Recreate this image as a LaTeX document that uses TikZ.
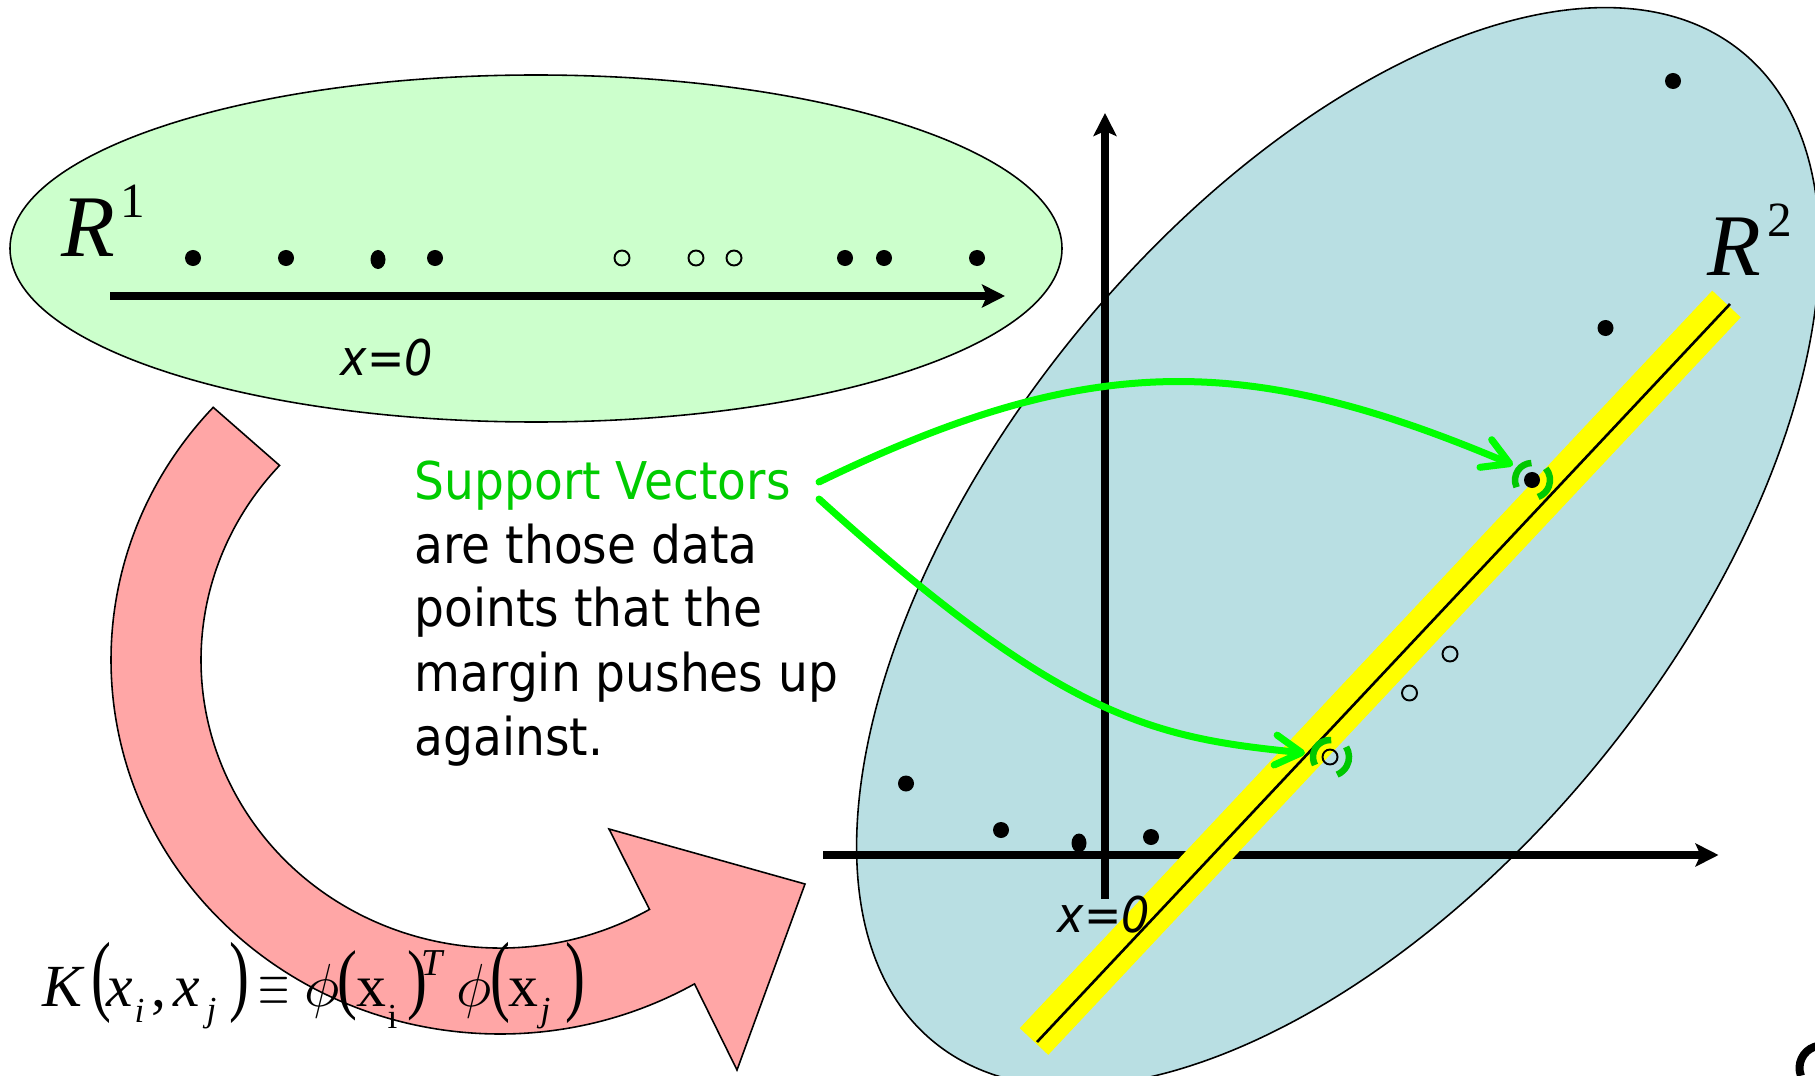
\documentclass[tikz,border=0pt]{standalone}
\usepackage{fontspec}
\usetikzlibrary{arrows.meta,shapes.geometric}
\newfontfamily\svfont{DejaVu Sans}[FakeStretch=0.905]
\newfontfamily\tms{Liberation Serif}
\definecolor{lgreen}{HTML}{CCFFCC}
\definecolor{lblue}{HTML}{B9DFE3}
\definecolor{lpink}{HTML}{FFA6A6}
\definecolor{neon}{HTML}{00FF00}
\definecolor{svgreen}{HTML}{00CC00}
\definecolor{brgreen}{HTML}{00C800}
\definecolor{ylw}{HTML}{FFFF00}
\newcommand{\bparen}[1]{\scalebox{1}[1.5]{#1}}
\newcommand{\mparen}[1]{\scalebox{1}[1.3]{#1}}
\begin{document}
\begin{tikzpicture}[x=0.01cm,y=-0.01cm,
 outl/.style={draw=black,line width=0.45pt},
 axisline/.style={line width=0.075cm,-{Stealth[length=0.23cm,width=0.23cm,inset=0.05cm]}},
 dotf/.style={circle,fill=black,inner sep=0pt,minimum size=0.16cm},
 dotel/.style={ellipse,fill=black,inner sep=0pt,minimum width=0.15cm,minimum height=0.19cm},
 dotopen/.style={circle,draw=black,line width=0.55pt,fill=none,inner sep=0pt,minimum size=0.15cm},
 svtext/.style={anchor=base west,inner sep=0pt,font=\svfont\fontsize{14.8}{17}\selectfont},
 xlabel/.style={anchor=base west,inner sep=0pt,font=\svfont\itshape\fontsize{14}{16}\selectfont},
 bigR/.style={anchor=base west,inner sep=0pt,font=\tms\itshape\fontsize{25}{28}\selectfont},
 supR/.style={anchor=base west,inner sep=0pt,font=\tms\fontsize{14}{16}\selectfont},
 fml/.style={anchor=base west,inner sep=0pt,font=\tms\fontsize{17}{20}\selectfont},
 fsub/.style={anchor=base west,inner sep=0pt,font=\tms\fontsize{10}{11}\selectfont},
 fsup/.style={anchor=base west,inner sep=0pt,font=\tms\itshape\fontsize{10.8}{12}\selectfont},
 garrow/.style={draw=neon,line width=0.07cm,line cap=round,-{Straight Barb[length=0.26cm,width=0.3cm,round]}},
 bracket/.style={draw=brgreen,line width=0.065cm},
]
\fill[white] (0,0) rectangle (1815,1076);
\useasboundingbox (0,0) rectangle (1815,1076);

% R1 ellipse
\draw[outl,fill=lgreen] (536,248.5) ellipse[x radius=526,y radius=173.5];
% R2 ellipse
\draw[outl,fill=lblue,rotate around={50.8:(1338,547)}] (1338,547) ellipse[x radius=639,y radius=338];

% pink curved arrow
\path (500,660) ++(222.5:389 and 374) coordinate (po1);
\path (500,660) ++(60:299 and 288) coordinate (pi2);
\coordinate (pb2) at (737,1070);
\coordinate (ptip) at (805,884);
\coordinate (pb1) at (609,829);
\draw[outl,fill=lpink] (po1) arc[start angle=222.5,end angle=60,x radius=389,y radius=374]
  -- (pb2) -- (ptip) -- (pb1) -- (pi2)
  arc[start angle=60,end angle=222.5,x radius=299,y radius=288] -- cycle;

% R1 axis
\coordinate (a1s) at (110,296);
\coordinate (a1e) at (1005,296);
\draw[axisline] (a1s) -- (a1e);
% R2 axes
\coordinate (vb) at (1105,899);
\coordinate (vt) at (1105,113);
\coordinate (hl) at (823,855);
\coordinate (hr) at (1718.5,855);
\draw[axisline] (vb) -- (vt);
\draw[axisline] (hl) -- (hr);

% separating band
\coordinate (ylo) at (1034,1041.5);
\coordinate (yhi) at (1726.5,304);
\draw[ylw,line width=0.39cm] (ylo) -- (yhi);
\coordinate (blo) at (1037,1042);
\coordinate (bhi) at (1730,304);
\draw[black,line width=0.75pt] (blo) -- (bhi);

% R1 points
\node[dotf] (p1) at (193,258) {};
\node[dotf] (p2) at (286,258) {};
\node[dotel] (p3) at (378,259.5) {};
\node[dotf] (p4) at (435,258) {};
\node[dotopen] (q1) at (622,258) {};
\node[dotopen] (q2) at (696,258) {};
\node[dotopen] (q3) at (734,258) {};
\node[dotf] (p5) at (845,258) {};
\node[dotf] (p6) at (884,258) {};
\node[dotf] (p7) at (977,258) {};

% R2 points
\node[dotf] (r1) at (1673,81) {};
\node[dotf] (r2) at (1605.5,328) {};
\node[dotf] (sva) at (1532,480) {};
\node[dotopen] (svb) at (1330,757) {};
\node[dotopen] (r3) at (1409.5,693) {};
\node[dotopen] (r4) at (1450,654) {};
\node[dotf] (r5) at (906,783.5) {};
\node[dotf] (r6) at (1001,830) {};
\node[dotel] (r7) at (1079,843) {};
\node[dotf] (r8) at (1151,837) {};

% support vector brackets
\draw[bracket] (sva.center) ++(155:17) arc[start angle=155,end angle=268,radius=17];
\draw[bracket] (sva.center) ++(-40:18) arc[start angle=-40,end angle=70,radius=18];
\draw[bracket] (svb.center) ++(152:17) arc[start angle=152,end angle=274,radius=17];
\draw[bracket] (svb.center) ++(-32:19) arc[start angle=-32,end angle=68,radius=19];

% green arrows
\coordinate (gs1) at (819,482);
\coordinate (ge1) at (1513,465);
\coordinate (gs2) at (819,499);
\coordinate (ge2) at (1305,753);
\draw[garrow] (gs1) .. controls (1089,351) and (1246,352) .. (ge1);
\draw[garrow] (gs2) .. controls (1063,720) and (1155,738) .. (ge2);

% texts
\node[svtext,text=svgreen] (sv1) at (414,499) {Support Vectors};
\node[svtext] (sv2) at (414,563) {are those data};
\node[svtext] (sv3) at (414,626) {points that the};
\node[svtext] (sv4) at (414,691) {margin pushes up};
\node[svtext] (sv5) at (414,755) {against.};

\node[xlabel] (x0a) at (340,375) {x=0};
\node[xlabel] (x0b) at (1057,932) {x=0};

\node[bigR] (R1) at (61,257) {R};
\node[supR] (R1s) at (120,218) {1};
\node[bigR] (R2) at (1707,275) {R};
\node[supR] (R2s) at (1767,237) {2};

% kernel formula
\node[fml] (fK) at (42,1006) {\itshape K};
\node[fml] (fp1) at (91,1004) {\bparen{(}};
\node[fml] (fx1) at (106,1006) {\itshape x};
\node[fsub] (fi1) at (134,1022) {\itshape i};
\node[fml] (fc) at (151,1006) {,};
\node[fml] (fx2) at (173,1006) {\itshape x};
\node[fsub] (fj1) at (206,1021) {\itshape j};
\node[fml] (fp2) at (229,1004) {\bparen{)}};
\node[fml] (feq) at (258,1005) {\scalebox{0.66}[1]{$\equiv$}};
\node[fml] (fphi1) at (304,1006) {$\phi$};
\node[fml] (fp3) at (337,1004) {\mparen{(}};
\node[fml] (fx3) at (356,1006) {x};
\node[fsub] (fi2) at (387,1028) {i};
\node[fml] (fp4) at (407,1004) {\mparen{)}};
\node[fsup] (fT) at (421,975) {T};
\node[fml] (fphi2) at (456,1006) {$\phi$};
\node[fml] (fp5) at (490,1004) {\bparen{(}};
\node[fml] (fx4) at (508,1006) {x};
\node[fsub] (fj2) at (540,1021) {\itshape j};
\node[fml] (fp6) at (565,1004) {\bparen{)}};

% fragment at the lower right corner
\draw[line width=0.08cm] (1822,1068) ++(160:22.5) arc[start angle=160,end angle=290,radius=22.5];
\end{tikzpicture}
\end{document}
